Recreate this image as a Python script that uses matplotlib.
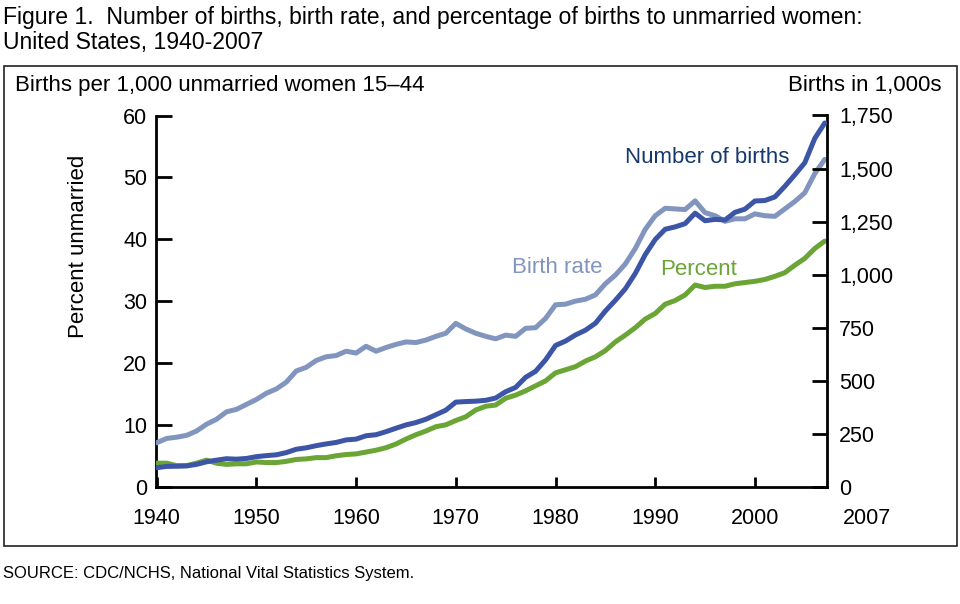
import matplotlib
matplotlib.use("Agg")
import matplotlib.pyplot as plt
from matplotlib.patches import Rectangle

plt.rcParams['font.family'] = ['Liberation Sans', 'DejaVu Sans']

years = list(range(1940, 2008))

births_thousands = [
    89.5, 95.7, 96.5, 98.1, 105.2, 117.4, 125.2, 131.9, 129.7, 133.2,
    141.6, 146.5, 150.3, 160.8, 176.6, 183.3, 193.5, 201.7, 208.7, 220.6,
    224.3, 240.2, 245.1, 259.4, 275.7, 291.2, 302.4, 318.1, 339.2, 360.8,
    398.7, 401.4, 403.2, 407.3, 418.1, 447.9, 468.1, 515.7, 543.9, 597.8,
    665.7, 686.6, 715.2, 737.9, 770.4, 828.2, 878.5, 933.0, 1005.3, 1094.2,
    1165.4, 1213.8, 1224.9, 1240.2, 1289.6, 1253.9, 1260.3, 1257.4, 1293.6, 1308.6,
    1347.0, 1349.2, 1366.0, 1416.0, 1470.2, 1527.0, 1641.7, 1714.6,
]

birth_rate = [
    7.1, 7.8, 8.0, 8.3, 9.0, 10.1, 10.9, 12.1, 12.5, 13.3,
    14.1, 15.1, 15.8, 16.9, 18.7, 19.3, 20.4, 21.0, 21.2, 21.9,
    21.6, 22.7, 21.9, 22.5, 23.0, 23.4, 23.3, 23.7, 24.3, 24.8,
    26.4, 25.5, 24.8, 24.3, 23.9, 24.5, 24.3, 25.6, 25.7, 27.2,
    29.4, 29.5, 30.0, 30.3, 31.0, 32.8, 34.2, 36.0, 38.5, 41.6,
    43.8, 45.0, 44.9, 44.8, 46.2, 44.3, 43.8, 42.9, 43.3, 43.3,
    44.1, 43.8, 43.7, 44.9, 46.1, 47.5, 50.6, 52.9,
]

percent_unmarried = [
    3.8, 3.8, 3.4, 3.4, 3.8, 4.3, 3.8, 3.6, 3.7, 3.7,
    4.0, 3.9, 3.9, 4.1, 4.4, 4.5, 4.7, 4.7, 5.0, 5.2,
    5.3, 5.6, 5.9, 6.3, 6.9, 7.7, 8.4, 9.0, 9.7, 10.0,
    10.7, 11.3, 12.4, 13.0, 13.2, 14.3, 14.8, 15.5, 16.3, 17.1,
    18.4, 18.9, 19.4, 20.3, 21.0, 22.0, 23.4, 24.5, 25.7, 27.1,
    28.0, 29.5, 30.1, 31.0, 32.6, 32.2, 32.4, 32.4, 32.8, 33.0,
    33.2, 33.5, 34.0, 34.6, 35.8, 36.9, 38.5, 39.7,
]

x_ticks = [1940, 1950, 1960, 1970, 1980, 1990, 2000]
x_ticklabels = ['1940', '1950', '1960', '1970', '1980', '1990', '2000']
left_ticks = [0, 10, 20, 30, 40, 50, 60]
right_ticks = [0, 250, 500, 750, 1000, 1250, 1500, 1750]
right_ticklabels = ['0', '250', '500', '750', '1,000', '1,250', '1,500', '1,750']

c_births = '#3d55a6'
c_births_txt = '#16386c'
c_rate = '#8195be'
c_pct = '#6aa535'

W, H = 960, 604
fig = plt.figure(figsize=(W / 100, H / 100), dpi=100)

def fx(px):
    return px / W

def fy(py):
    return 1 - py / H

ax_l, ax_r, ax_t, ax_b = 155.7, 826.7, 115.5, 486.7
ax = fig.add_axes([fx(ax_l), fy(ax_b), (ax_r - ax_l) / W, (ax_b - ax_t) / H])
ax2 = ax.twinx()

lw = 3.6
ax.plot(years, birth_rate, color=c_rate, lw=lw, solid_capstyle='round', zorder=3)
ax.plot(years, percent_unmarried, color=c_pct, lw=lw, solid_capstyle='round', zorder=3)
ax2.plot(years, births_thousands, color=c_births, lw=lw, solid_capstyle='round', zorder=4)

ax.set_xlim(1939.9, 2007.2)
ax.set_ylim(0, 60)
ax2.set_ylim(0, 1750)

for a in (ax, ax2):
    a.spines['top'].set_visible(False)
    for s in ('left', 'right', 'bottom'):
        a.spines[s].set_linewidth(2.0)
    a.patch.set_visible(False)
ax2.spines['left'].set_visible(False)
ax2.spines['bottom'].set_visible(False)
ax.spines['right'].set_visible(False)

ax.set_xticks(x_ticks)
ax.set_xticklabels(x_ticklabels)
ax.set_yticks(left_ticks)
ax2.set_yticks(right_ticks)
ax2.set_yticklabels(right_ticklabels)

tfs = 15.5
ax.tick_params(axis='x', direction='in', length=7.5, width=2.0, labelsize=tfs, pad=15.5)
ax.tick_params(axis='y', direction='in', length=11.5, width=2.0, labelsize=tfs, pad=6)
ax2.tick_params(axis='y', direction='in', length=11, width=2.0, labelsize=tfs, pad=9)

# extra 2007 label beyond right axis, aligned with the other year labels
ax.annotate('2007', xy=(1, 0), xycoords='axes fraction', xytext=(29, -15.5),
            textcoords='offset points', fontsize=tfs, ha='center', va='top')

lfs = 16
ax.text(1986.97, 52.35, 'Number of births', color=c_births_txt, fontsize=lfs, ha='left', va='baseline')
ax.text(1975.68, 34.6, 'Birth rate', color=c_rate, fontsize=lfs, ha='left', va='baseline')
ax.text(1990.45, 34.24, 'Percent', color=c_pct, fontsize=lfs, ha='left', va='baseline')

fig.text(fx(78), fy(246), 'Percent unmarried', rotation=90, fontsize=lfs, ha='center', va='center')
fig.text(fx(15), fy(91), 'Births per 1,000 unmarried women 15\u201344', fontsize=lfs, ha='left', va='baseline')
fig.text(fx(941), fy(91), 'Births in 1,000s', fontsize=lfs, ha='right', va='baseline')

fig.text(fx(3), fy(24), 'Figure 1.  Number of births, birth rate, and percentage of births to unmarried women:',
         fontsize=16.6, ha='left', va='baseline')
fig.text(fx(3), fy(49), 'United States, 1940-2007', fontsize=16.6, ha='left', va='baseline')
fig.text(fx(3), fy(578), 'SOURCE: CDC/NCHS, National Vital Statistics System.', fontsize=12, ha='left', va='baseline')

frame = Rectangle((fx(3.5), fy(546)), (956.5 - 3.5) / W, (546 - 66) / H, transform=fig.transFigure,
                  fill=False, edgecolor='#222222', lw=1.2)
fig.patches.append(frame)

fig.savefig('out.png', dpi=100)
